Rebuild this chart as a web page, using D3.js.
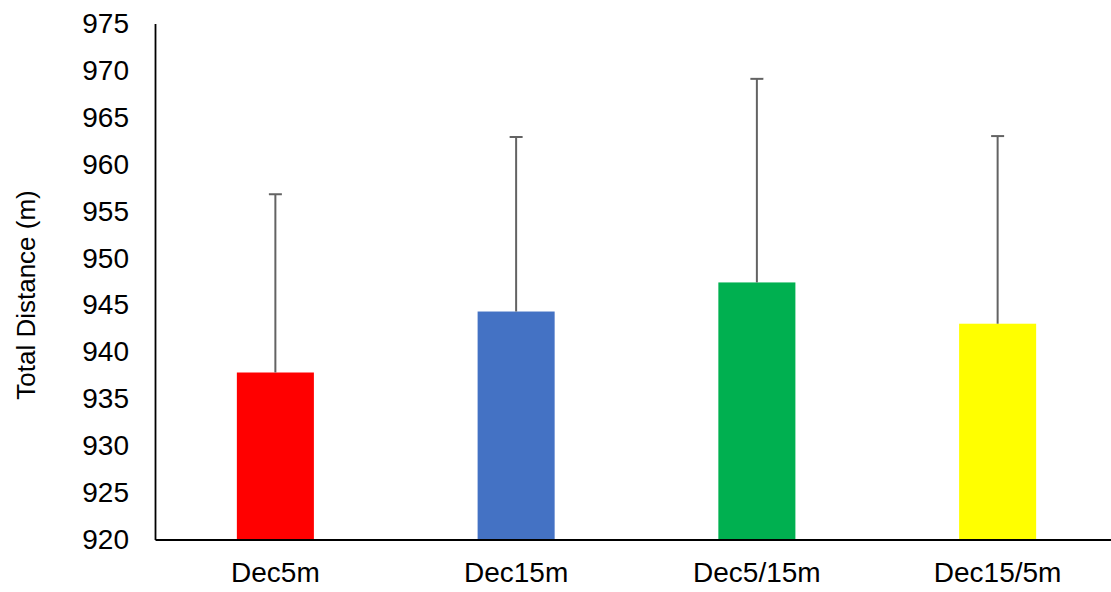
<!DOCTYPE html>
<html><head><meta charset="utf-8">
<script src="https://cdn.jsdelivr.net/npm/d3@7"></script>
<style>body{margin:0;background:#fff;}svg{display:block;font-family:"Liberation Sans",Arial,sans-serif;}</style>
</head><body>
<svg id="chart" width="1111" height="592"></svg>
<script>
const categories = ["Dec5m", "Dec15m", "Dec5/15m", "Dec15/5m"];
const means = [937.8, 944.3, 947.4, 943.0];
const errorsUp = [19.0, 18.6, 21.7, 20.0];
const colors = ["#FF0000", "#4472C4", "#00B050", "#FFFF00"];
const yTicks = [920, 925, 930, 935, 940, 945, 950, 955, 960, 965, 970, 975];

const svg = d3.select("#chart");
const mLeft = 155, mRight = 1118, mTop = 23.5, mBottom = 539.5;

const x = d3.scaleBand().domain(categories).range([mLeft, mRight]).padding(0);
const y = d3.scaleLinear().domain([920, 975]).range([mBottom, mTop]);
const barW = x.bandwidth() * 0.32;

// bars
svg.selectAll("rect.bar").data(categories).enter().append("rect")
  .attr("class", "bar")
  .attr("x", d => x(d) + x.bandwidth() / 2 - barW / 2)
  .attr("width", barW)
  .attr("y", (d, i) => y(means[i]))
  .attr("height", (d, i) => y(920) - y(means[i]))
  .attr("fill", (d, i) => colors[i]);

// error bars
const eb = svg.append("g").attr("stroke", "#636363").attr("stroke-width", 2);
categories.forEach((c, i) => {
  const cx = x(c) + x.bandwidth() / 2;
  eb.append("line").attr("x1", cx).attr("x2", cx)
    .attr("y1", y(means[i])).attr("y2", y(means[i] + errorsUp[i]));
  eb.append("line").attr("x1", cx - 6.5).attr("x2", cx + 6.5)
    .attr("y1", y(means[i] + errorsUp[i])).attr("y2", y(means[i] + errorsUp[i]));
});

// y axis
const yAxis = d3.axisLeft(y).tickValues(yTicks).tickSize(0).tickPadding(26).tickFormat(d3.format("d"));
const gy = svg.append("g").attr("transform", `translate(${mLeft},0)`).call(yAxis);
gy.select(".domain").attr("stroke", "#000").attr("stroke-width", 1.8);
gy.selectAll("text").attr("font-size", 28).attr("fill", "#000")
  .attr("font-family", "'Liberation Sans', Arial, sans-serif");

// x axis
const xAxis = d3.axisBottom(x).tickSize(0).tickPadding(23);
const gx = svg.append("g").attr("transform", `translate(0,${mBottom})`).call(xAxis);
gx.select(".domain").attr("stroke", "#000").attr("stroke-width", 1.8);
gx.selectAll("text").attr("font-size", 28).attr("fill", "#000")
  .attr("font-family", "'Liberation Sans', Arial, sans-serif");

// y title
svg.append("text")
  .attr("transform", "translate(35,295) rotate(-90)")
  .attr("text-anchor", "middle")
  .attr("font-size", 26)
  .attr("fill", "#000")
  .text("Total Distance (m)");
</script>
</body></html>
